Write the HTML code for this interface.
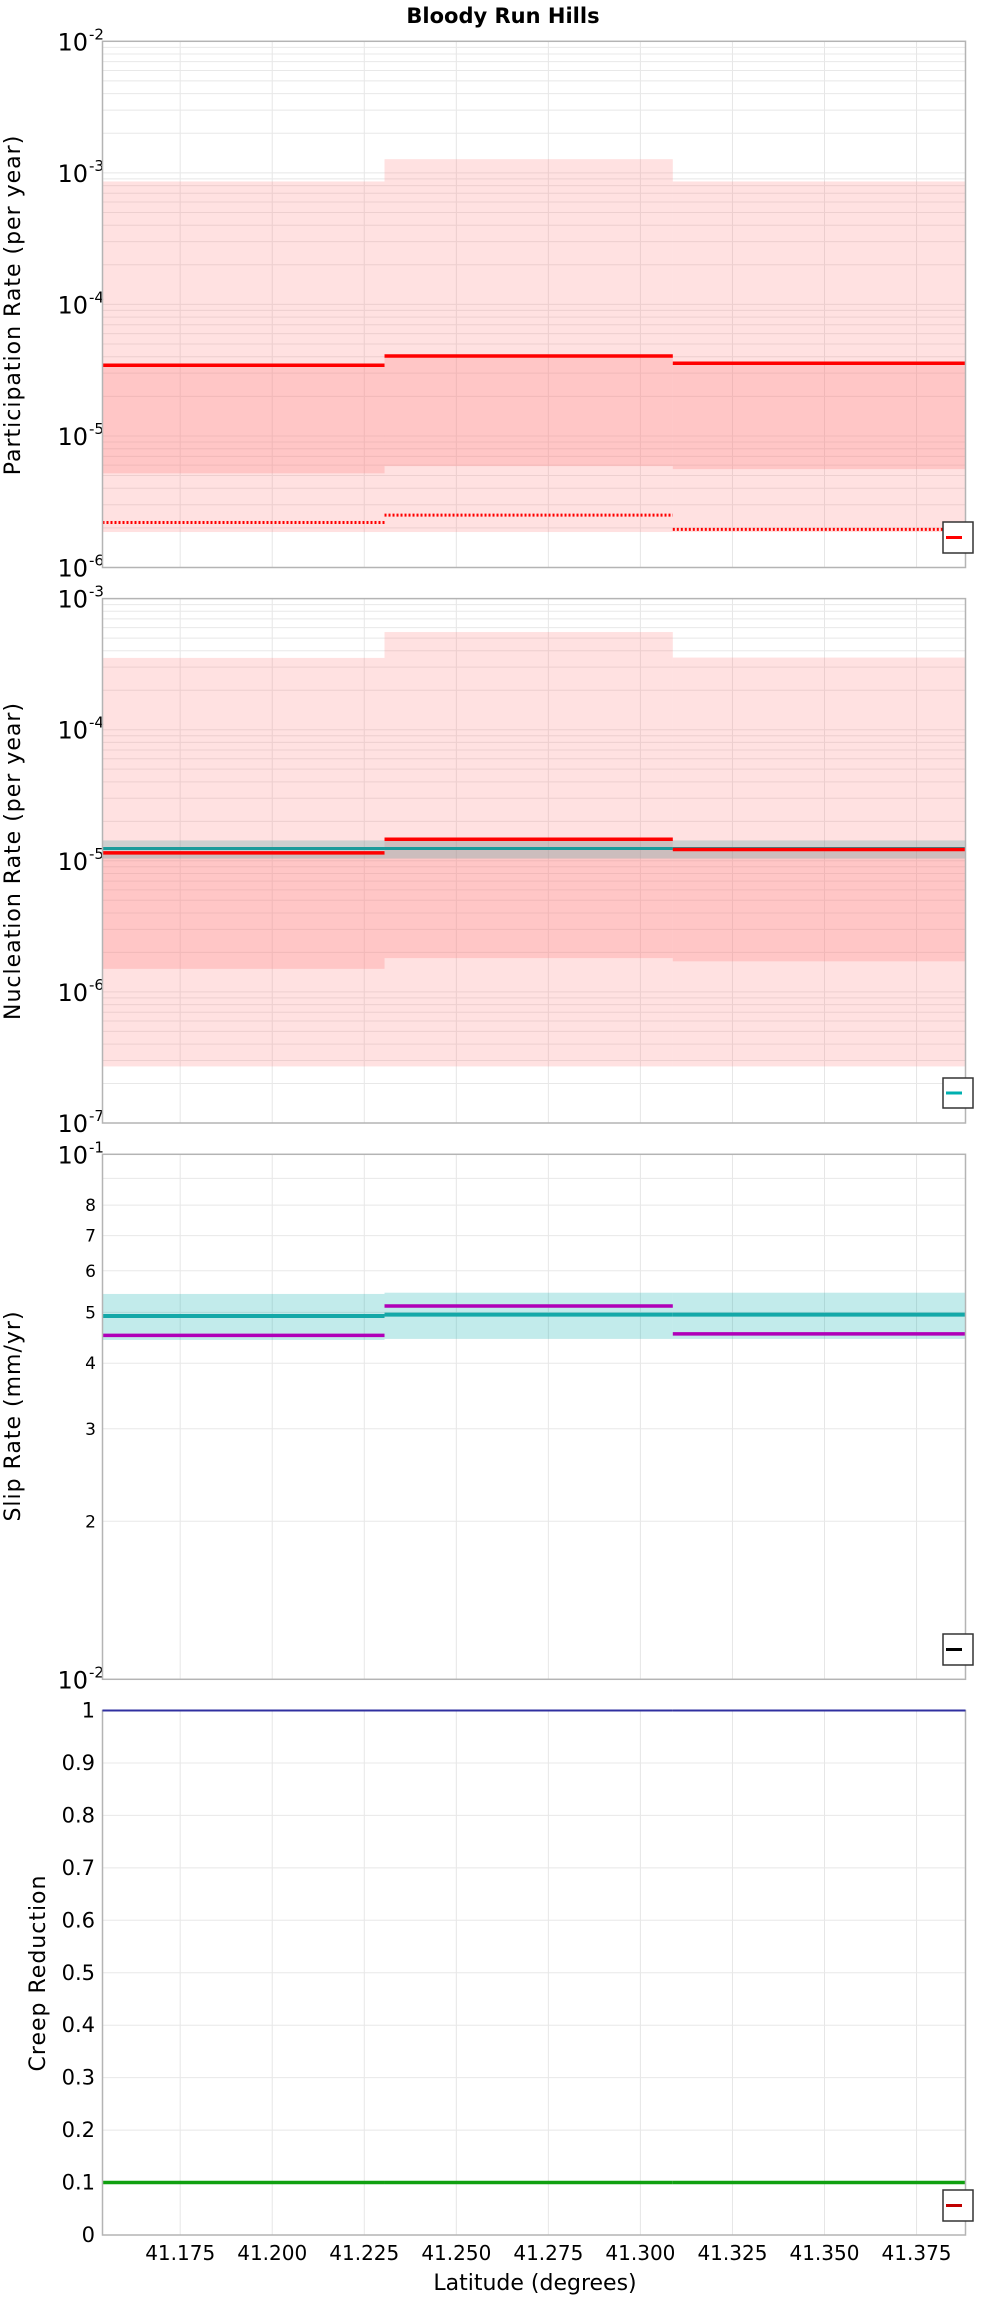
<!DOCTYPE html>
<html><head><meta charset="utf-8">
<style>
html,body{margin:0;padding:0;background:#fff;}
svg{display:block;font-family:"DejaVu Sans","Liberation Sans",sans-serif;}
</style></head>
<body>
<svg id="chart" width="1000" height="2300" viewBox="0 0 1000 2300" xmlns="http://www.w3.org/2000/svg">
<text x="503" y="23" text-anchor="middle" font-size="21" font-weight="bold">Bloody Run Hills</text>
</svg>
<script>
// ---- data ----
const binEdges = [41.1539, 41.2305, 41.3088, 41.3883];
const xTicks = [41.175, 41.2, 41.225, 41.25, 41.275, 41.3, 41.325, 41.35, 41.375];
const xTickLabels = ["41.175","41.200","41.225","41.250","41.275","41.300","41.325","41.350","41.375"];

const partOuterHi = [8.6e-4, 1.27e-3, 8.6e-4];
const partOuterLo = [1.86e-6, 1.86e-6, 1.86e-6];
const partInnerLo = [5.2e-6, 5.9e-6, 5.6e-6];
const partMean = [3.45e-5, 4.05e-5, 3.57e-5];
const partDotted = [2.2e-6, 2.5e-6, 1.95e-6];

const nuclOuterHi = [3.53e-4, 5.56e-4, 3.55e-4];
const nuclOuterLo = [2.7e-7, 2.7e-7, 2.7e-7];
const nuclInnerLo = [1.5e-6, 1.81e-6, 1.71e-6];
const nuclMean = [1.15e-5, 1.46e-5, 1.22e-5];
const nuclTarget = [1.24e-5, 1.24e-5, 1.24e-5];
const nuclTargetHi = [1.43e-5, 1.43e-5, 1.43e-5];
const nuclTargetLo = [1.04e-5, 1.04e-5, 1.04e-5];

const slipTarget = [4.92, 4.95, 4.95];
const slipTargetHi = [5.42, 5.45, 5.45];
const slipTargetLo = [4.43, 4.45, 4.45];
const slipSolution = [4.52, 5.14, 4.55];
const slipMinorTicks = [2,3,4,5,6,7,8,9];
const slipMinorLabels = ["2","3","4","5","6","7","8",""];

const creepBlue = [1.0, 1.0, 1.0];
const creepGreen = [0.1, 0.1, 0.1];
const creepTicks = [0,0.1,0.2,0.3,0.4,0.5,0.6,0.7,0.8,0.9,1];
const creepTickLabels = ["0","0.1","0.2","0.3","0.4","0.5","0.6","0.7","0.8","0.9","1"];

// ---- layout ----
const svg = document.getElementById('chart');
const NS = 'http://www.w3.org/2000/svg';
const L = 102.5, R = 965.5;
function X(v){ return L + (v - binEdges[0]) / (binEdges[3] - binEdges[0]) * (R - L); }
function mk(tag, attrs, parent){
  const e = document.createElementNS(NS, tag);
  for (const k in attrs) e.setAttribute(k, attrs[k]);
  (parent || svg).appendChild(e);
  return e;
}
function logY(top, bot, lmin, lmax){ return v => bot - (Math.log10(v) - lmin) / (lmax - lmin) * (bot - top); }

function frame(top, bot, name, ylabel, ylabelX, ylabelY){
  const g = mk('g', {});
  
  
  xTicks.forEach(t => {
    const l = mk('line', {x1:X(t), x2:X(t), y1:top, y2:bot, stroke:'#e6e6e6', 'stroke-width':1}, g);
    
    
  });
  const t = mk('text', {x:ylabelX, y:ylabelY, 'font-size':22, 'text-anchor':'middle', transform:`rotate(-90 ${ylabelX} ${ylabelY})`, 'letter-spacing':'1'}, g);
  t.textContent = ylabel;
  
  
  return g;
}
function border(top, bot){
  const b = mk('rect', {x:L, y:top, width:R-L, height:bot-top, fill:'none', stroke:'#b4b4b4', 'stroke-width':1.5});
  
  
}
function logGrid(g, top, bot, lmin, lmax, Y, labelMajor){
  for (let d = lmin; d < lmax; d++){
    for (let m = 1; m <= 9; m++){
      const v = m * Math.pow(10, d);
      const y = Y(v);
      const l = mk('line', {x1:L, x2:R, y1:y, y2:y, stroke:'#e8e8e8', 'stroke-width':1}, g);
      
      
    }
  }
  if (labelMajor){
    for (let d = lmin; d <= lmax; d++){
      const y = Y(Math.pow(10, d));
      const t = mk('text', {x:88, y:y+9, 'font-size':24, 'text-anchor':'end'}, g);
      t.textContent = '10';
      
      
      const s = mk('text', {x:89, y:y-2, 'font-size':15, 'text-anchor':'start'}, g);
      s.textContent = String(d);
      
      
    }
  }
}
function bands(g, lo, hi, Y, fill, name){
  for (let i = 0; i < 3; i++){
    const y1 = Y(hi[i]), y2 = Y(lo[i]);
    const r = mk('rect', {x:X(binEdges[i]), y:y1, width:X(binEdges[i+1])-X(binEdges[i]), height:y2-y1, fill:fill}, g);
    
    
  }
}
function steps(g, vals, Y, color, w, name, dash){
  for (let i = 0; i < 3; i++){
    const y = Y(vals[i]);
    const a = {x1:X(binEdges[i]), x2:X(binEdges[i+1]), y1:y, y2:y, stroke:color, 'stroke-width':w};
    if (dash) a['stroke-dasharray'] = dash;
    const l = mk('line', a, g);
    
    
  }
}
function legend(y1, y2, color){
  const g = mk('g', {});
  
  
  mk('rect', {x:943, y:y1, width:30, height:y2-y1, fill:'#fff', stroke:'#333', 'stroke-width':1.5}, g);
  const l = mk('line', {x1:946, x2:962, y1:(y1+y2)/2, y2:(y1+y2)/2, stroke:color, 'stroke-width':3}, g);
  
  
}

// ---- panel 1: participation ----
(function(){
  const top = 41.3, bot = 567.5;
  const Y = logY(top, bot, -6, -2);
  const g = frame(top, bot, 'participation-panel', 'Participation Rate (per year)', 20, 305);
  logGrid(g, top, bot, -6, -2, Y, true);
  bands(g, partOuterLo, partOuterHi, Y, 'rgba(255,120,120,0.22)', 'participation-outer-band');
  bands(g, partInnerLo, partMean, Y, 'rgba(255,120,120,0.25)', 'participation-inner-band');
  steps(g, partMean, Y, '#ff0000', 3.5, 'participation-mean');
  steps(g, partDotted, Y, '#ff0000', 3, 'participation-min', '2 2');
  border(top, bot);
  legend(522, 553, '#ff0000');
})();

// ---- panel 2: nucleation ----
(function(){
  const top = 598.6, bot = 1123;
  const Y = logY(top, bot, -7, -3);
  const g = frame(top, bot, 'nucleation-panel', 'Nucleation Rate (per year)', 20, 861);
  logGrid(g, top, bot, -7, -3, Y, true);
  bands(g, nuclOuterLo, nuclOuterHi, Y, 'rgba(255,120,120,0.22)', 'nucleation-outer-band');
  bands(g, nuclInnerLo, nuclMean, Y, 'rgba(255,120,120,0.25)', 'nucleation-inner-band');
  bands(g, nuclTargetLo, nuclTargetHi, Y, 'rgba(100,170,170,0.33)', 'nucleation-target-band');
  steps(g, nuclTarget, Y, '#1a9a9a', 3, 'nucleation-target');
  steps(g, nuclMean, Y, '#ff0000', 3.5, 'nucleation-mean');
  border(top, bot);
  legend(1078, 1108, '#00b0b0');
})();

// ---- panel 3: slip rate ----
(function(){
  const top = 1154.3, bot = 1679.3;
  const Y = logY(top, bot, 0, 1);
  const g = frame(top, bot, 'slip-rate-panel', 'Slip Rate (mm/yr)', 20, 1416);
  slipMinorTicks.forEach((v, i) => {
    const y = Y(v);
    const l = mk('line', {x1:L, x2:R, y1:y, y2:y, stroke:'#e8e8e8', 'stroke-width':1}, g);
    
    
    if (slipMinorLabels[i]){
      const t = mk('text', {x:96, y:y+6, 'font-size':17, 'text-anchor':'end'}, g);
      t.textContent = slipMinorLabels[i];
      
      
    }
  });
  [[1,'-2'],[10,'-1']].forEach(p => {
    const y = Y(p[0]);
    const t = mk('text', {x:88, y:y+9, 'font-size':24, 'text-anchor':'end'}, g);
    t.textContent = '10';
    
    
    const s = mk('text', {x:89, y:y-2, 'font-size':15}, g);
    s.textContent = p[1];
    
    
  });
  bands(g, slipTargetLo, slipTargetHi, Y, 'rgba(0,170,170,0.24)', 'slip-target-band');
  steps(g, slipTarget, Y, '#14a8a8', 4, 'slip-target');
  steps(g, slipSolution, Y, '#b000b8', 3.5, 'slip-solution');
  border(top, bot);
  legend(1634, 1665, '#000');
})();

// ---- panel 4: creep ----
(function(){
  const top = 1710.5, bot = 2235;
  const Y = v => bot - v * (bot - top);
  const g = frame(top, bot, 'creep-panel', 'Creep Reduction', 45, 1973);
  creepTicks.forEach((v, i) => {
    const y = Y(v);
    const l = mk('line', {x1:L, x2:R, y1:y, y2:y, stroke:'#e8e8e8', 'stroke-width':1}, g);
    
    
    const t = mk('text', {x:95, y:y+7, 'font-size':21, 'text-anchor':'end'}, g);
    t.textContent = creepTickLabels[i];
    
    
  });
  border(top, bot);
  steps(g, creepGreen, Y, '#10a010', 3.5, 'creep-reduction-line');
  steps(svg, creepBlue, Y, '#3030a0', 2, 'creep-max-line');
  legend(2190, 2221, '#c00000');
  xTicks.forEach((v, i) => {
    const t = mk('text', {x:X(v), y:2260, 'font-size':20, 'text-anchor':'middle'});
    t.textContent = xTickLabels[i];
    
    
  });
  const xt = mk('text', {x:535, y:2290, 'font-size':22, 'text-anchor':'middle'});
  xt.textContent = 'Latitude (degrees)';
  
  
})();
</script>
</body></html>
